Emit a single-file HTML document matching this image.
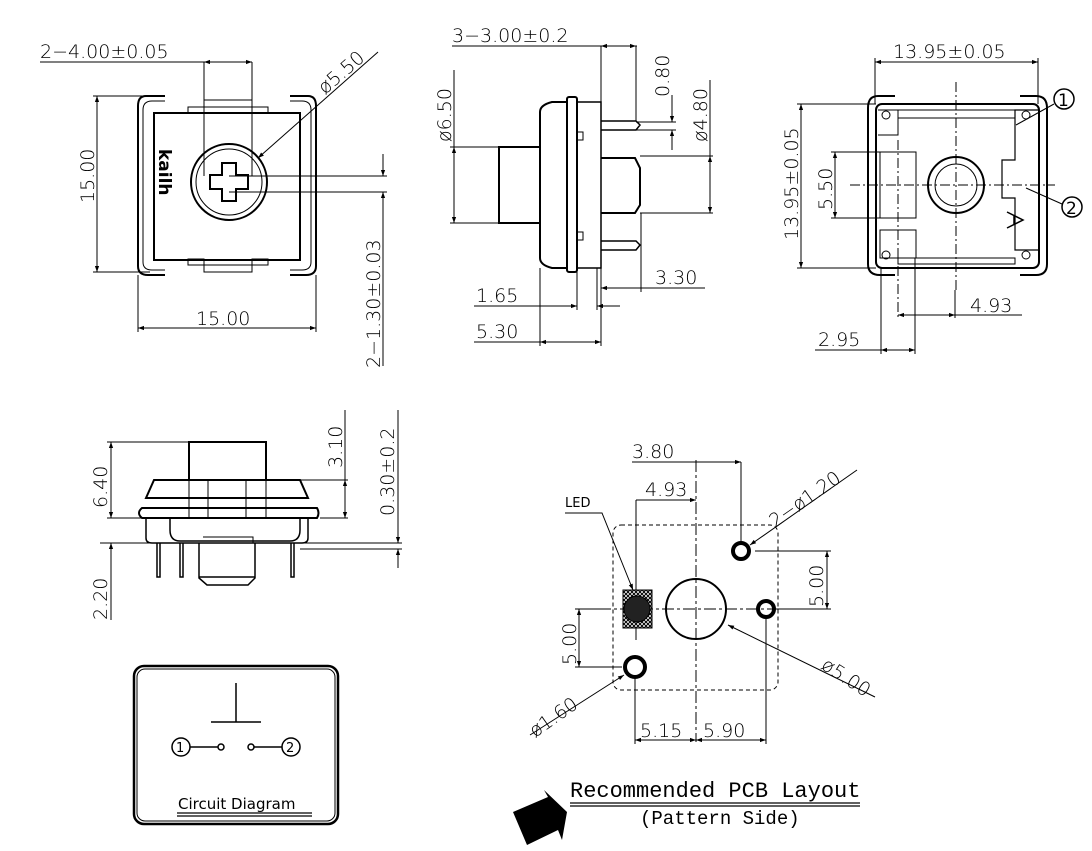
<!DOCTYPE html>
<html><head><meta charset="utf-8"><style>
html,body{margin:0;padding:0;background:#fff}
svg{display:block}
text{font-family:"DejaVu Sans","Liberation Sans",sans-serif;fill:#000}
.d{font-size:19px;font-weight:300}
</style></head><body>
<svg width="1092" height="851" viewBox="0 0 1092 851" xmlns="http://www.w3.org/2000/svg">
<defs>
<marker id="a" viewBox="0 0 10 10" refX="10" refY="5" markerWidth="10" markerHeight="6" orient="auto-start-reverse" markerUnits="userSpaceOnUse"><path d="M0,1.5 L10,5 L0,8.5z" fill="#000"/></marker>
<pattern id="h" width="4" height="4" patternUnits="userSpaceOnUse"><path d="M0,0L4,4M4,0L0,4" stroke="#000" stroke-width="1"/></pattern>
</defs>
<g fill="none" stroke="#000" stroke-width="1">
<path d="M165,96 H146 Q138,96 138,106 V266 Q138,275 148,275 H165" stroke-width="2"/>
<path d="M290,96 H308 Q316,96 316,106 V266 Q316,275 306,275 H290" stroke-width="2"/>
<path d="M165,101 H152 Q143,101 143,110 V262 Q143,270 152,270 H165"/>
<path d="M290,101 H302 Q311,101 311,110 V262 Q311,270 302,270 H290"/>
<rect x="154" y="113" width="146" height="147" stroke-width="2"/>
<rect x="204" y="100" width="48" height="7"/><rect x="204" y="265" width="48" height="7"/>
<path d="M188,107h16v6h-16zM252,107h16v6h-16zM188,259h16v6h-16zM252,259h16v6h-16z"/>
<circle cx="229" cy="182" r="38" stroke-width="2"/><circle cx="229" cy="182" r="33"/>
<path d="M222,163h14v12h12v14h-12v12h-14v-12h-12v-14h12z" stroke-width="2"/>
<path d="M40,62H252M204,62V176M252,62V176"/><path d="M204,62H252" marker-start="url(#a)" marker-end="url(#a)"/>
<path d="M97,96V272" marker-start="url(#a)" marker-end="url(#a)"/><path d="M93,96H150M93,272H150"/>
<path d="M138,328H316" marker-start="url(#a)" marker-end="url(#a)"/><path d="M138,275V332M316,275V332"/>
<path d="M258,158L378,52" marker-start="url(#a)"/>
<path d="M229,176H387M229,192H387"/><path d="M383,154V176" marker-end="url(#a)"/><path d="M383,366V192" marker-end="url(#a)"/>
<rect x="499" y="147" width="41" height="76" stroke-width="2"/>
<path d="M568,102H552Q540,105 540,112V258Q540,265 552,268H568" stroke-width="2"/>
<rect x="567" y="97" width="10" height="175" rx="2" stroke-width="2"/>
<rect x="577" y="102" width="24" height="166" stroke-width="1.5"/>
<path d="M601,158H635L640,168V205L635,213H601" stroke-width="2"/>
<path d="M601,121H636L640,125L636,130H601M601,241H636L640,245L636,250H601" stroke-width="1.5"/>
<path d="M577,132h6v8h-6M577,232h6v8h-6"/>
<path d="M452,46H637M601,46V102M636,46V121"/><path d="M601,46H636" marker-start="url(#a)" marker-end="url(#a)"/>
<path d="M636,122H676M636,130H676"/><path d="M672,95V122" marker-end="url(#a)"/><path d="M672,150V130" marker-end="url(#a)"/>
<path d="M640,156H713M640,213H713"/><path d="M710,156V213" marker-start="url(#a)" marker-end="url(#a)"/><path d="M710,156V80"/>
<path d="M454,147V223" marker-start="url(#a)" marker-end="url(#a)"/><path d="M450,147H499M450,223H499"/><path d="M454,147V70"/>
<path d="M601,288H705M641,213V292"/><path d="M641,288H601" marker-end="url(#a)"/>
<path d="M474,306H577" marker-end="url(#a)"/><path d="M620,306H597" marker-end="url(#a)"/><path d="M577,268V310M597,268V310"/>
<path d="M474,342H540M540,268V346M601,268V346"/><path d="M540,342H601" marker-start="url(#a)" marker-end="url(#a)"/>
<path d="M895,96H878Q868,96 868,108V264Q868,275 880,275H895" stroke-width="2"/>
<path d="M1020,96H1036Q1047,96 1047,108V264Q1047,275 1036,275H1020" stroke-width="2"/>
<rect x="876" y="104" width="163" height="164" rx="6" stroke-width="2"/>
<path d="M898,110H1015V118H898z"/><path d="M898,258H1015V264H898z"/>
<path d="M878,110H898V135H878"/><path d="M1038,110H1015V160H1002V198H1015V250H1038" stroke-width="1.2"/>
<rect x="880" y="152" width="36" height="66"/><rect x="880" y="230" width="36" height="28"/>
<circle cx="956" cy="185" r="28" stroke-width="2"/><circle cx="956" cy="185" r="21"/>
<circle cx="886" cy="115" r="4"/><circle cx="1026" cy="115" r="4"/><circle cx="886" cy="255" r="4"/><circle cx="1026" cy="255" r="4"/>
<path d="M850,185H1055M956,82V290M898,140V320" stroke-dasharray="10,3,2,3"/>
<path d="M1016,125L1054,104M1026,188L1062,204"/>
<circle cx="1064" cy="99" r="10" stroke-width="1.5"/><circle cx="1072" cy="207" r="10" stroke-width="1.5"/>
<path d="M1007,212L1023,220L1007,228M1014,216V224" stroke-width="1.5"/>
<path d="M875,62H1038" marker-start="url(#a)" marker-end="url(#a)"/><path d="M875,58V104M1038,58V104"/>
<path d="M801,104V268" marker-start="url(#a)" marker-end="url(#a)"/><path d="M797,104H876M797,268H876"/>
<path d="M835,152V218" marker-start="url(#a)" marker-end="url(#a)"/><path d="M831,152H880M831,218H880"/>
<path d="M898,315H955" marker-start="url(#a)" marker-end="url(#a)"/><path d="M955,315H1022M955,290V318"/>
<path d="M815,350H915M881,268V354M915,258V354"/><path d="M881,350H915" marker-start="url(#a)" marker-end="url(#a)"/>
<rect x="189" y="442" width="77" height="38" stroke-width="2"/>
<path d="M154,480H300L308,498H146Z" stroke-width="2"/>
<path d="M189,480V518M208,480V518M246,480V518M266,480V518M189,508h19M246,508h19"/>
<path d="M142,508H317Q320,513 317,518H142Q136,513 142,508Z" stroke-width="2"/>
<path d="M146,518V538Q146,543 152,543H302Q308,543 308,538V518M170,518V530Q170,541 180,541H290Q300,541 300,530V518" stroke-width="1.5"/>
<path d="M203,537H253V543"/>
<path d="M199,543V578L207,585H248L255,578V543M199,577H255" stroke-width="1.5"/>
<path d="M157,543V577h3V543M180,543V577h3V543M291,543V577h3V543" stroke-width="1.5"/>
<path d="M107,442H189M107,518H142"/><path d="M111,442V518" marker-start="url(#a)" marker-end="url(#a)"/>
<path d="M300,480H348M320,518H348M345,410V480"/><path d="M345,480V518" marker-start="url(#a)" marker-end="url(#a)"/>
<path d="M100,543H402M300,549H402"/><path d="M398,410V543" marker-end="url(#a)"/><path d="M398,568V549" marker-end="url(#a)"/>
<path d="M111,620V543" marker-end="url(#a)"/>
<rect x="134" y="666" width="204" height="158" rx="10" stroke-width="2.5"/>
<rect x="137" y="669" width="198" height="152" rx="8"/>
<path d="M236,683V722M211,722H261" stroke-width="1.5"/>
<circle cx="181" cy="747" r="9" stroke-width="1.5"/><circle cx="291" cy="747" r="9" stroke-width="1.5"/>
<path d="M190,747H218M254,747H282" stroke-width="1.5"/>
<circle cx="221" cy="747" r="3" stroke-width="1.5"/><circle cx="251" cy="747" r="3" stroke-width="1.5"/>
<path d="M177,813H312M177,816H312" stroke-width="1.3"/>
<rect x="613" y="525" width="165" height="165" rx="8" stroke-dasharray="4,3"/>
<path d="M696,460V742M578,609H830" stroke-dasharray="12,3,3,3"/>
<circle cx="696" cy="609" r="30" stroke-width="2"/>
<rect x="623" y="590" width="29" height="38" fill="url(#h)"/>
<circle cx="637" cy="609" r="13" fill="#222"/>
<circle cx="741" cy="551" r="8" stroke-width="4"/><circle cx="766" cy="609" r="8" stroke-width="4"/><circle cx="635" cy="667" r="10" stroke-width="4"/>
<path d="M632,462H696M741,462V545"/><path d="M696,462H741" marker-end="url(#a)"/>
<path d="M636,500H696" marker-end="url(#a)"/><path d="M636,500V590M636,628V640"/>
<path d="M565,513H602L633,590" marker-end="url(#a)"/>
<path d="M857,470L750,545" marker-end="url(#a)"/>
<path d="M755,551H831M778,609H831"/><path d="M827,551V609" marker-start="url(#a)" marker-end="url(#a)"/>
<path d="M575,609H611M575,667H622"/><path d="M579,609V667" marker-start="url(#a)" marker-end="url(#a)"/>
<path d="M530,735L624,675" marker-end="url(#a)"/>
<path d="M875,697L728,625" marker-end="url(#a)"/>
<path d="M635,678V744M766,619V744"/>
<path d="M635,740H696" marker-start="url(#a)" marker-end="url(#a)"/><path d="M696,740H766" marker-start="url(#a)" marker-end="url(#a)"/>
<path d="M570,803H860M570,806H860" stroke-width="1.3"/>
</g>
<polygon points="513,812 548,797 544,790 567,812 562,840 558,830 527,845" fill="#000"/>
<text class="d" x="40" y="58">2−4.00±0.05</text>
<text class="d" transform="translate(94,203) rotate(-90)">15.00</text>
<text class="d" x="196" y="325">15.00</text>
<text class="d" transform="translate(325,95) rotate(-41)">ø5.50</text>
<text class="d" transform="translate(380,368) rotate(-90)">2−1.30±0.03</text>
<text x="156" y="160" transform="rotate(90 163 156)" style="font-size:17px;font-weight:bold">kailh</text>
<text class="d" x="452" y="42">3−3.00±0.2</text>
<text class="d" transform="translate(669,97) rotate(-90)">0.80</text>
<text class="d" transform="translate(707,142) rotate(-90)">ø4.80</text>
<text class="d" transform="translate(451,142) rotate(-90)">ø6.50</text>
<text class="d" x="655" y="284">3.30</text>
<text class="d" x="476" y="302">1.65</text>
<text class="d" x="476" y="338">5.30</text>
<text class="d" x="893" y="58">13.95±0.05</text>
<text class="d" transform="translate(798,240) rotate(-90)">13.95±0.05</text>
<text class="d" transform="translate(832,210) rotate(-90)">5.50</text>
<text class="d" x="970" y="312">4.93</text>
<text class="d" x="818" y="346">2.95</text>
<text x="1058" y="106" style="font-size:17px">1</text>
<text x="1066" y="214" style="font-size:17px">2</text>
<text class="d" transform="translate(107,508) rotate(-90)">6.40</text>
<text class="d" transform="translate(342,468) rotate(-90)">3.10</text>
<text class="d" transform="translate(394,516) rotate(-90)">0.30±0.2</text>
<text class="d" transform="translate(107,620) rotate(-90)">2.20</text>
<text x="176" y="752" style="font-size:13px">1</text>
<text x="286" y="752" style="font-size:13px">2</text>
<text x="178" y="809" style="font-size:15px">Circuit Diagram</text>
<text class="d" x="632" y="458">3.80</text>
<text class="d" x="645" y="496">4.93</text>
<text x="565" y="507" style="font-size:13px">LED</text>
<text class="d" transform="translate(775,528) rotate(-35)">2−ø1.20</text>
<text class="d" transform="translate(823,607) rotate(-90)">5.00</text>
<text class="d" transform="translate(576,665) rotate(-90)">5.00</text>
<text class="d" transform="translate(535,738) rotate(-35)">ø1.60</text>
<text class="d" transform="translate(820,668) rotate(33)">ø5.00</text>
<text class="d" x="640" y="737">5.15</text>
<text class="d" x="703" y="737">5.90</text>
<text x="570" y="797" style="font-family:'Liberation Mono',monospace;font-size:22px">Recommended PCB Layout</text>
<text x="640" y="824" style="font-family:'Liberation Mono',monospace;font-size:19px">(Pattern Side)</text>
</svg>
</body></html>
